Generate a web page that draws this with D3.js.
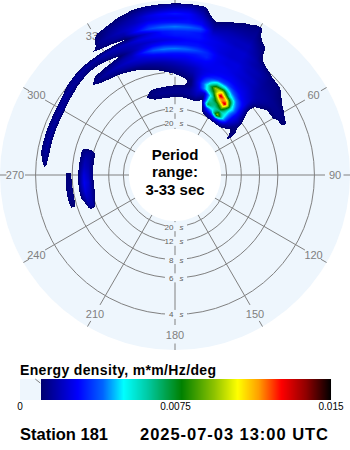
<!DOCTYPE html>
<html>
<head>
<meta charset="utf-8">
<script src="https://cdn.jsdelivr.net/npm/d3@7"></script>
<style>
  html, body { margin: 0; padding: 0; background: #ffffff; }
  svg { display: block; font-family: "Liberation Sans", Arial, sans-serif; }
</style>
</head>
<body>
<svg id="chart" width="350" height="450"></svg>
<script>
// ---- data -------------------------------------------------------------
const stationName = "Station 181";
const timeStamp = "2025-07-03 13:00 UTC";
const periodRange = ["Period", "range:", "3-33 sec"];

// period rings (seconds) and compass labels (degrees, clockwise from north)
const periodTicks = [20, 12, 8, 6, 4];
const directionTicks = [0, 30, 60, 90, 120, 150, 180, 210, 240, 270, 300, 330];

// spectrum grid: direction nodes (deg) and frequency nodes (Hz)
const directions = [245, 250, 255, 260, 265, 270, 275, 280, 285, 290, 295, 300,
  305, 310, 315, 320, 325, 330, 335, 340, 345, 350, 355,
  0, 5, 10, 15, 20, 25, 30, 35, 40, 45, 50, 55, 60, 65, 70];
const frequencies = [0.06, 0.07, 0.08, 0.09, 0.10, 0.11, 0.12, 0.13, 0.14, 0.15,
  0.16, 0.17, 0.18, 0.19, 0.20, 0.21, 0.22, 0.23, 0.24, 0.25,
  0.26, 0.27, 0.28, 0.29, 0.30, 0.31, 0.32, 0.33];

// energy density, one row per direction node, in units of 1e-4 m*m/Hz/deg
const energyUnit = 1e-4;
const energy = [
  [0,0,0,0,0,0,0,0,0,0, 0,0,0,0,0,0,0,0,0,0, 0,0,0,0,0,0,0,0],          // 245
  [0,0,0,0,0,0,0,16,16,0, 0,8,8,0,0,0,0,0,0,0, 0,0,0,0,0,0,0,0],        // 250
  [0,0,0,0,0,0,10,18,20,12, 0,12,12,0,0,0,0,0,0,0, 0,0,0,0,0,0,0,0],    // 255
  [0,0,0,0,0,0,12,20,24,15, 0,13,13,0,0,0,0,0,0,0, 0,0,0,0,0,0,0,0],    // 260
  [0,0,0,0,0,0,12,22,26,15, 0,13,12,0,0,0,0,0,0,0, 0,0,0,0,0,0,0,0],    // 265
  [0,0,0,0,0,0,12,20,24,14, 0,11,11,0,0,0,0,0,0,0, 0,0,0,0,0,0,0,0],    // 270
  [0,0,0,0,0,0,11,18,20,13, 0,6,6,0,0,0,6,14,6,0, 0,0,0,0,0,0,0,0],     // 275
  [0,0,0,0,0,0,10,16,18,12, 0,0,0,0,0,0,8,16,12,0, 0,0,0,0,0,0,0,0],    // 280
  [0,0,0,0,0,0,10,14,14,12, 0,0,0,0,0,0,8,16,12,0, 0,0,0,0,0,0,0,0],    // 285
  [0,0,0,0,0,0,0,0,0,0, 0,0,0,0,0,0,8,16,12,0, 0,0,0,0,0,0,0,0],        // 290
  [0,0,0,0,0,0,0,0,0,0, 0,0,0,0,0,0,8,16,12,0, 0,0,0,0,0,0,0,0],        // 295
  [0,0,0,0,0,0,0,0,0,0, 0,0,0,0,0,0,7,16,13,0, 0,0,0,0,0,0,0,0],        // 300
  [0,0,0,0,0,0,0,0,0,0, 0,0,0,0,0,0,0,14,16,6, 0,0,0,0,0,0,0,0],        // 305
  [0,0,0,0,0,0,0,0,0,0, 0,0,0,0,0,0,0,10,16,12, 0,0,0,0,0,0,0,0],       // 310
  [0,0,0,0,0,0,0,0,0,0, 0,0,0,0,0,5,0,6,15,15, 4,0,0,0,0,0,0,0],        // 315
  [0,0,0,0,0,0,0,0,0,0, 0,0,0,0,8,14,10,5,12,16, 7,0,0,0,0,0,0,0],      // 320
  [0,0,0,0,0,0,0,0,0,0, 0,0,0,4,12,16,12,5,12,16, 7,9,0,0,0,0,0,0],     // 325
  [0,0,0,0,0,0,0,0,0,0, 0,0,0,7,14,18,14,7,14,18, 7,13,14,11,9,0,0,0],  // 330
  [0,0,0,0,0,0,0,0,0,0, 0,0,4,10,16,20,17,10,16,19, 8,15,17,15,13,7,0,0], // 335
  [0,0,0,0,0,8,10,8,0,0, 0,0,7,12,18,22,20,16,18,20, 10,17,20,18,15,12,6,0], // 340
  [0,0,0,0,0,10,13,12,6,0, 0,5,10,14,20,24,30,22,20,24, 18,28,24,20,18,15,10,0], // 345
  [0,0,0,0,0,11,14,13,6,0, 0,8,12,16,22,28,38,28,22,26, 24,36,30,24,24,18,13,0], // 350
  [0,0,0,0,0,11,14,13,7,0, 6,11,14,18,24,30,42,30,24,28, 30,40,30,26,28,20,14,0], // 355
  [0,0,0,0,0,10,14,14,8,6, 9,13,16,20,26,30,42,30,26,30, 32,42,30,26,30,22,15,0], // 0
  [0,0,0,0,0,10,14,14,9,8, 12,15,18,22,26,30,40,30,28,30, 32,40,30,28,28,22,15,0], // 5
  [0,0,0,0,6,11,15,15,12,12, 15,18,20,24,28,30,36,30,28,30, 30,36,28,24,20,16,12,0], // 10
  [0,0,0,0,7,12,18,22,25,28, 26,24,24,26,28,32,32,28,26,26, 24,20,16,12,6,0,0,0], // 15
  [0,0,0,0,0,8,14,22,48,52, 40,30,26,26,26,26,26,24,24,24, 22,20,18,15,12,6,0,0], // 20
  [0,0,5,15,30,70,60,55,75,95, 60,35,28,26,26,24,24,22,22,22, 20,20,18,16,14,12,6,0], // 25
  [0,0,8,20,45,60,70,100,135,100, 55,35,28,26,24,24,24,22,22,22, 20,20,18,16,15,14,12,0], // 30
  [0,0,8,30,95,65,95,135,100,55, 40,30,26,24,22,22,20,20,18,18, 16,14,12,10,5,0,0,0], // 35
  [0,0,8,25,50,50,50,55,48,40, 30,26,24,22,20,20,18,18,16,13, 6,0,0,0,0,0,0,0], // 40
  [0,0,7,14,22,26,28,30,28,26, 24,22,20,18,17,16,15,14,13,8, 0,0,0,0,0,0,0,0], // 45
  [0,0,0,8,12,16,18,14,11,6, 6,9,14,16,16,15,14,13,12,6, 0,0,0,0,0,0,0,0], // 50
  [0,6,12,13,11,7,4,0,0,0, 0,0,6,11,14,14,12,10,6,0, 0,0,0,0,0,0,0,0],   // 55
  [0,0,0,0,0,0,0,0,0,0, 0,0,0,10,13,13,10,5,0,0, 0,0,0,0,0,0,0,0],      // 60
  [0,0,0,0,0,0,0,0,0,0, 0,0,0,0,10,11,5,0,0,0, 0,0,0,0,0,0,0,0],        // 65
  [0,0,0,0,0,0,0,0,0,0, 0,0,0,0,0,0,0,0,0,0, 0,0,0,0,0,0,0,0]           // 70
];

// colour bar
const energyMax = 0.015;
const energyFloor = 0.001;           // below this the cell is left blank
const barTicks = [0, 0.0075, 0.015];
const barTickLabels = ["0", "0.0075", "0.015"];
const colorStops = [0.0010, 0.0028, 0.0040, 0.0050, 0.0062, 0.0078, 0.0094, 0.0105, 0.0115, 0.0126, 0.0138, 0.0150];
const colorRange = ["#00006e", "#0000ff", "#0064ff", "#00ffff", "#00c8a0", "#008000",
                    "#90c400", "#ffff00", "#ffa000", "#ff0000", "#900000", "#000000"];

// ---- layout ----------------------------------------------------------
const W = 350, cx = 175, cy = 175;
const discRadius = 175;
const innerRadius = 46;
const bgColor = "#eef6fd";
const gridColor = "#808080";

const rScale = d3.scaleLinear().domain([1 / 33, 1 / 3]).range([43, 176]);
const color = d3.scaleLinear().domain(colorStops).range(colorRange).clamp(true);

const svg = d3.select("#chart");
const polar = (deg, r) => {
  const a = deg * Math.PI / 180;
  return [cx + r * Math.sin(a), cy - r * Math.cos(a)];
};

// background disc
svg.append("circle").attr("cx", cx).attr("cy", cy).attr("r", discRadius).attr("fill", bgColor);

// period rings
const grid = svg.append("g").attr("fill", "none").attr("stroke", gridColor).attr("stroke-width", 1);
grid.selectAll("circle.ring").data(periodTicks).join("circle")
  .attr("class", "ring")
  .attr("cx", cx).attr("cy", cy)
  .attr("r", p => rScale(1 / p));

// radial spokes and outer tick marks
directionTicks.forEach(d => {
  const [x1, y1] = polar(d, innerRadius);
  const [x2, y2] = polar(d, 150);
  grid.append("line").attr("x1", x1).attr("y1", y1).attr("x2", x2).attr("y2", y2);
  const [x3, y3] = polar(d, 168.5);
  const [x4, y4] = polar(d, 175);
  grid.append("line").attr("x1", x3).attr("y1", y3).attr("x2", x4).attr("y2", y4);
});

// compass labels
svg.append("g").selectAll("text").data(directionTicks).join("text")
  .attr("x", d => polar(d, 160)[0])
  .attr("y", d => polar(d, 160)[1])
  .attr("text-anchor", "middle")
  .attr("dominant-baseline", "central")
  .attr("font-size", 11)
  .attr("fill", gridColor)
  .text(d => d);

// period labels along the north-south spoke
const ringLabels = svg.append("g");
periodTicks.forEach(p => {
  [-1, 1].forEach(s => {
    const y = cy + s * rScale(1 / p);
    ringLabels.append("rect").attr("x", 165).attr("y", y - 4.5).attr("width", 22).attr("height", 9).attr("fill", bgColor);
    ringLabels.append("text").attr("x", 173.5).attr("y", y + 3).attr("text-anchor", "end")
      .attr("font-size", 8).attr("fill", "#606060").text(p);
    ringLabels.append("text").attr("x", 179.5).attr("y", y + 3).attr("text-anchor", "start")
      .attr("font-size", 8).attr("font-style", "italic").attr("fill", "#606060").text("s");
  });
});

// ---- directional spectrum --------------------------------------------
const dirStep = directions[1] - directions[0];
const fIndex = d3.scaleLinear().domain([frequencies[0], frequencies[frequencies.length - 1]])
  .range([0, frequencies.length - 1]);

function sample(theta, f) {
  const di = (((theta - directions[0]) % 360) + 360) % 360 / dirStep;
  if (di > directions.length - 1) return 0;
  const fi = fIndex(f);
  if (fi < 0 || fi > frequencies.length - 1) return 0;
  const d0 = Math.floor(di), d1 = Math.min(d0 + 1, directions.length - 1), td = di - d0;
  const f0 = Math.floor(fi), f1 = Math.min(f0 + 1, frequencies.length - 1), tf = fi - f0;
  const a = energy[d0][f0] * (1 - tf) + energy[d0][f1] * tf;
  const b = energy[d1][f0] * (1 - tf) + energy[d1][f1] * tf;
  return (a * (1 - td) + b * td) * energyUnit;
}

const canvas = document.createElement("canvas");
canvas.width = W; canvas.height = W;
const ctx = canvas.getContext("2d");
const img = ctx.createImageData(W, W);
for (let py = 0; py < W; py++) {
  for (let px = 0; px < W; px++) {
    const dx = px + 0.5 - cx, dy = py + 0.5 - cy;
    const r = Math.hypot(dx, dy);
    if (r < innerRadius || r > discRadius) continue;
    const f = rScale.invert(r);
    const theta = (Math.atan2(dx, -dy) * 180 / Math.PI + 360) % 360;
    const v = sample(theta, f);
    if (v < energyFloor) continue;
    const c = d3.rgb(color(v));
    const i = (py * W + px) * 4;
    img.data[i] = c.r; img.data[i + 1] = c.g; img.data[i + 2] = c.b; img.data[i + 3] = 255;
  }
}
ctx.putImageData(img, 0, 0);
svg.append("image").attr("x", 0).attr("y", 0).attr("width", W).attr("height", W)
  .attr("href", canvas.toDataURL()).style("image-rendering", "pixelated");

// centre disc with the period range
svg.append("circle").attr("cx", cx).attr("cy", cy).attr("r", innerRadius).attr("fill", "#ffffff");
svg.append("g").selectAll("text").data(periodRange).join("text")
  .attr("x", cx).attr("y", (d, i) => [159.5, 176.5, 195][i])
  .attr("text-anchor", "middle").attr("font-size", 15).attr("font-weight", "bold")
  .attr("fill", "#000").text(d => d);

// ---- colour bar ------------------------------------------------------
const barX = d3.scaleLinear().domain([0, energyMax]).range([20, 331]);
const barY = 379, barH = 21;
svg.append("text").attr("x", 20).attr("y", 375).attr("font-size", 14).attr("font-weight", "bold")
  .attr("textLength", 196).attr("lengthAdjust", "spacing")
  .text("Energy density, m*m/Hz/deg");
svg.append("rect").attr("x", barX(0)).attr("y", barY).attr("width", barX(energyFloor) - barX(0))
  .attr("height", barH).attr("fill", bgColor);
svg.append("line").attr("x1", barX(energyFloor) - 5.5).attr("y1", barY).attr("x2", barX(energyFloor) - 0.5)
  .attr("y2", barY + 4).attr("stroke", gridColor).attr("stroke-width", 1);
const barSteps = d3.range(Math.round(barX(energyFloor)), Math.round(barX(energyMax)));
svg.append("g").selectAll("rect").data(barSteps).join("rect")
  .attr("x", d => d).attr("y", barY).attr("width", 1.02).attr("height", barH)
  .attr("fill", d => color(barX.invert(d + 0.5)));
svg.append("g").selectAll("text").data(barTicks).join("text")
  .attr("x", d => barX(d)).attr("y", 410).attr("text-anchor", "middle")
  .attr("font-size", 10).attr("fill", "#000")
  .text((d, i) => barTickLabels[i]);

// ---- footer ------------------------------------------------------------
svg.append("text").attr("x", 20).attr("y", 440).attr("font-size", 16.5).attr("font-weight", "bold")
  .attr("textLength", 88).attr("lengthAdjust", "spacing").text(stationName);
svg.append("text").attr("x", 140).attr("y", 440).attr("font-size", 16.5).attr("font-weight", "bold")
  .attr("textLength", 188).attr("lengthAdjust", "spacing").text(timeStamp);
</script>
</body>
</html>
